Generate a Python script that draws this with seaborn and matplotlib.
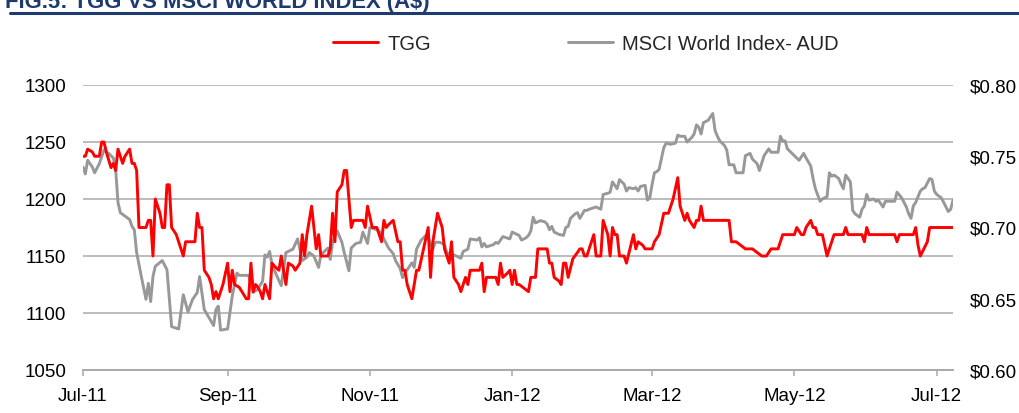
import matplotlib
matplotlib.use("Agg")
import matplotlib.pyplot as plt
import matplotlib.dates as mdates
import matplotlib.ticker as mticker
from matplotlib.lines import Line2D
import pandas as pd
import seaborn as sns

# ---------------- data ----------------
tgg_dates = [
    "2011-07-01", "2011-07-02", "2011-07-03", "2011-07-05", "2011-07-06", "2011-07-08", "2011-07-09",
    "2011-07-10", "2011-07-11", "2011-07-13", "2011-07-14", "2011-07-15", "2011-07-16", "2011-07-18",
    "2011-07-19", "2011-07-21", "2011-07-22", "2011-07-23", "2011-07-24", "2011-07-25", "2011-07-27",
    "2011-07-28", "2011-07-29", "2011-07-30", "2011-07-31", "2011-08-01", "2011-08-03", "2011-08-04",
    "2011-08-05", "2011-08-06", "2011-08-07", "2011-08-08", "2011-08-10", "2011-08-11", "2011-08-13",
    "2011-08-14", "2011-08-16", "2011-08-18", "2011-08-19", "2011-08-20", "2011-08-21", "2011-08-22",
    "2011-08-24", "2011-08-25", "2011-08-26", "2011-08-27", "2011-08-28", "2011-08-30", "2011-09-01",
    "2011-09-02", "2011-09-03", "2011-09-04", "2011-09-06", "2011-09-09", "2011-09-10", "2011-09-11",
    "2011-09-12", "2011-09-13", "2011-09-14", "2011-09-15", "2011-09-16", "2011-09-17", "2011-09-19",
    "2011-09-20", "2011-09-21", "2011-09-23", "2011-09-24", "2011-09-25", "2011-09-26", "2011-09-27",
    "2011-09-29", "2011-09-30", "2011-10-02", "2011-10-03", "2011-10-04", "2011-10-05", "2011-10-07",
    "2011-10-09", "2011-10-10", "2011-10-11", "2011-10-14", "2011-10-15", "2011-10-16", "2011-10-17",
    "2011-10-18", "2011-10-20", "2011-10-21", "2011-10-22", "2011-10-24", "2011-10-25", "2011-10-29",
    "2011-10-30", "2011-10-31", "2011-11-02", "2011-11-04", "2011-11-06", "2011-11-07", "2011-11-08",
    "2011-11-09", "2011-11-11", "2011-11-13", "2011-11-14", "2011-11-15", "2011-11-16", "2011-11-17",
    "2011-11-19", "2011-11-21", "2011-11-22", "2011-11-24", "2011-11-26", "2011-11-27", "2011-11-28",
    "2011-11-30", "2011-12-02", "2011-12-03", "2011-12-05", "2011-12-06", "2011-12-07", "2011-12-09",
    "2011-12-10", "2011-12-12", "2011-12-13", "2011-12-14", "2011-12-18", "2011-12-19", "2011-12-20",
    "2011-12-21", "2011-12-25", "2011-12-26", "2011-12-27", "2011-12-28", "2011-12-30", "2011-12-31",
    "2012-01-01", "2012-01-02", "2012-01-03", "2012-01-04", "2012-01-06", "2012-01-08", "2012-01-09",
    "2012-01-11", "2012-01-12", "2012-01-16", "2012-01-17", "2012-01-18", "2012-01-19", "2012-01-21",
    "2012-01-22", "2012-01-23", "2012-01-24", "2012-01-25", "2012-01-27", "2012-01-29", "2012-01-30",
    "2012-01-31", "2012-02-01", "2012-02-02", "2012-02-04", "2012-02-05", "2012-02-06", "2012-02-08",
    "2012-02-09", "2012-02-11", "2012-02-12", "2012-02-13", "2012-02-14", "2012-02-15", "2012-02-16",
    "2012-02-18", "2012-02-19", "2012-02-22", "2012-02-23", "2012-02-24", "2012-02-26", "2012-02-27",
    "2012-03-01", "2012-03-02", "2012-03-03", "2012-03-04", "2012-03-06", "2012-03-08", "2012-03-10",
    "2012-03-12", "2012-03-13", "2012-03-14", "2012-03-15", "2012-03-16", "2012-03-17", "2012-03-19",
    "2012-03-20", "2012-03-21", "2012-03-22", "2012-03-23", "2012-04-03", "2012-04-04", "2012-04-06",
    "2012-04-08", "2012-04-10", "2012-04-13", "2012-04-17", "2012-04-19", "2012-04-21", "2012-04-24",
    "2012-04-26", "2012-05-01", "2012-05-02", "2012-05-04", "2012-05-05", "2012-05-06", "2012-05-08",
    "2012-05-09", "2012-05-10", "2012-05-11", "2012-05-13", "2012-05-15", "2012-05-18", "2012-05-22",
    "2012-05-23", "2012-05-24", "2012-05-30", "2012-05-31", "2012-06-01", "2012-06-02", "2012-06-13",
    "2012-06-14", "2012-06-15", "2012-06-21", "2012-06-22", "2012-06-23", "2012-06-24", "2012-06-27",
    "2012-06-28", "2012-07-08",
]
tgg_price = [
    0.750, 0.750, 0.755, 0.753, 0.750, 0.750, 0.760,
    0.760, 0.753, 0.742, 0.745, 0.740, 0.755, 0.745,
    0.750, 0.755, 0.745, 0.745, 0.740, 0.700, 0.700,
    0.700, 0.705, 0.705, 0.680, 0.720, 0.710, 0.700,
    0.700, 0.730, 0.730, 0.700, 0.695, 0.690, 0.680,
    0.690, 0.690, 0.690, 0.710, 0.700, 0.700, 0.670,
    0.665, 0.660, 0.650, 0.655, 0.650, 0.660, 0.675,
    0.655, 0.670, 0.660, 0.658, 0.650, 0.650, 0.675,
    0.655, 0.660, 0.658, 0.655, 0.650, 0.660, 0.650,
    0.675, 0.673, 0.670, 0.680, 0.670, 0.660, 0.675,
    0.673, 0.670, 0.675, 0.695, 0.680, 0.695, 0.715,
    0.685, 0.695, 0.680, 0.680, 0.685, 0.710, 0.690,
    0.725, 0.730, 0.740, 0.740, 0.700, 0.705, 0.705,
    0.700, 0.715, 0.700, 0.700, 0.690, 0.705, 0.700,
    0.702, 0.705, 0.690, 0.690, 0.670, 0.670, 0.660,
    0.650, 0.670, 0.670, 0.685, 0.700, 0.665, 0.690,
    0.710, 0.700, 0.685, 0.675, 0.690, 0.665, 0.660,
    0.655, 0.665, 0.660, 0.670, 0.670, 0.675, 0.655,
    0.665, 0.665, 0.660, 0.675, 0.665, 0.668, 0.670,
    0.660, 0.670, 0.660, 0.660, 0.6575, 0.655, 0.665,
    0.665, 0.685, 0.685, 0.675, 0.675, 0.665, 0.6625,
    0.660, 0.675, 0.675, 0.665, 0.678, 0.6825, 0.685,
    0.685, 0.680, 0.680, 0.690, 0.695, 0.680, 0.680,
    0.705, 0.695, 0.680, 0.700, 0.695, 0.695, 0.680,
    0.680, 0.675, 0.695, 0.685, 0.690, 0.6875, 0.685,
    0.685, 0.690, 0.6925, 0.695, 0.710, 0.710, 0.720,
    0.735, 0.715, 0.710, 0.705, 0.710, 0.705, 0.700,
    0.705, 0.705, 0.715, 0.705, 0.705, 0.690, 0.690,
    0.6875, 0.685, 0.685, 0.680, 0.680, 0.685, 0.685,
    0.695, 0.695, 0.700, 0.695, 0.695, 0.700, 0.705,
    0.700, 0.700, 0.695, 0.695, 0.680, 0.695, 0.695,
    0.700, 0.695, 0.695, 0.690, 0.700, 0.695, 0.695,
    0.690, 0.695, 0.695, 0.700, 0.6875, 0.680, 0.690,
    0.700, 0.700,
]

msci_dates = [
    "2011-07-01", "2011-07-02", "2011-07-03", "2011-07-05", "2011-07-06", "2011-07-08", "2011-07-10",
    "2011-07-12", "2011-07-14", "2011-07-15", "2011-07-16", "2011-07-17", "2011-07-19", "2011-07-21",
    "2011-07-22", "2011-07-23", "2011-07-24", "2011-07-26", "2011-07-28", "2011-07-29", "2011-07-30",
    "2011-07-31", "2011-08-01", "2011-08-04", "2011-08-06", "2011-08-08", "2011-08-11", "2011-08-13",
    "2011-08-15", "2011-08-17", "2011-08-19", "2011-08-20", "2011-08-22", "2011-08-24", "2011-08-26",
    "2011-08-27", "2011-08-28", "2011-08-29", "2011-09-01", "2011-09-03", "2011-09-05", "2011-09-06",
    "2011-09-09", "2011-09-10", "2011-09-12", "2011-09-14", "2011-09-16", "2011-09-17", "2011-09-18",
    "2011-09-19", "2011-09-20", "2011-09-22", "2011-09-24", "2011-09-26", "2011-09-27", "2011-09-29",
    "2011-10-01", "2011-10-02", "2011-10-03", "2011-10-05", "2011-10-06", "2011-10-08", "2011-10-10",
    "2011-10-11", "2011-10-14", "2011-10-15", "2011-10-16", "2011-10-18", "2011-10-20", "2011-10-21",
    "2011-10-23", "2011-10-24", "2011-10-26", "2011-10-28", "2011-10-29", "2011-10-31", "2011-11-01",
    "2011-11-04", "2011-11-06", "2011-11-07", "2011-11-09", "2011-11-11", "2011-11-12", "2011-11-14",
    "2011-11-15", "2011-11-16", "2011-11-19", "2011-11-20", "2011-11-21", "2011-11-23", "2011-11-25",
    "2011-11-26", "2011-11-28", "2011-11-29", "2011-12-01", "2011-12-03", "2011-12-04", "2011-12-06",
    "2011-12-07", "2011-12-10", "2011-12-11", "2011-12-13", "2011-12-14", "2011-12-17", "2011-12-18",
    "2011-12-19", "2011-12-20", "2011-12-21", "2011-12-24", "2011-12-25", "2011-12-26", "2011-12-28",
    "2011-12-31", "2012-01-01", "2012-01-03", "2012-01-04", "2012-01-05", "2012-01-07", "2012-01-08",
    "2012-01-09", "2012-01-10", "2012-01-11", "2012-01-13", "2012-01-15", "2012-01-16", "2012-01-17",
    "2012-01-18", "2012-01-19", "2012-01-21", "2012-01-23", "2012-01-24", "2012-01-25", "2012-01-26",
    "2012-01-28", "2012-01-29", "2012-01-30", "2012-02-01", "2012-02-02", "2012-02-03", "2012-02-06",
    "2012-02-07", "2012-02-08", "2012-02-09", "2012-02-11", "2012-02-12", "2012-02-13", "2012-02-15",
    "2012-02-16", "2012-02-18", "2012-02-19", "2012-02-20", "2012-02-22", "2012-02-23", "2012-02-24",
    "2012-02-25", "2012-02-27", "2012-02-28", "2012-02-29", "2012-03-01", "2012-03-02", "2012-03-03",
    "2012-03-04", "2012-03-06", "2012-03-07", "2012-03-09", "2012-03-11", "2012-03-12", "2012-03-13",
    "2012-03-15", "2012-03-16", "2012-03-18", "2012-03-19", "2012-03-20", "2012-03-21", "2012-03-22",
    "2012-03-23", "2012-03-25", "2012-03-26", "2012-03-27", "2012-03-28", "2012-03-29", "2012-03-30",
    "2012-04-01", "2012-04-02", "2012-04-03", "2012-04-05", "2012-04-06", "2012-04-09", "2012-04-10",
    "2012-04-12", "2012-04-13", "2012-04-15", "2012-04-16", "2012-04-18", "2012-04-20", "2012-04-21",
    "2012-04-24", "2012-04-25", "2012-04-26", "2012-04-27", "2012-04-28", "2012-04-30", "2012-05-02",
    "2012-05-03", "2012-05-05", "2012-05-06", "2012-05-08", "2012-05-09", "2012-05-10", "2012-05-12",
    "2012-05-13", "2012-05-15", "2012-05-16", "2012-05-17", "2012-05-18", "2012-05-20", "2012-05-21",
    "2012-05-22", "2012-05-23", "2012-05-25", "2012-05-26", "2012-05-27", "2012-05-29", "2012-05-30",
    "2012-05-31", "2012-06-01", "2012-06-02", "2012-06-04", "2012-06-05", "2012-06-06", "2012-06-07",
    "2012-06-08", "2012-06-09", "2012-06-13", "2012-06-14", "2012-06-16", "2012-06-18", "2012-06-19",
    "2012-06-20", "2012-06-21", "2012-06-22", "2012-06-24", "2012-06-25", "2012-06-26", "2012-06-28",
    "2012-06-29", "2012-06-30", "2012-07-01", "2012-07-03", "2012-07-04", "2012-07-06", "2012-07-07",
    "2012-07-08",
]
msci_index = [
    1228, 1222, 1234, 1228, 1223, 1231, 1243,
    1240, 1236, 1226, 1197, 1188, 1185, 1182,
    1176, 1173, 1153, 1132, 1112, 1126, 1110,
    1132, 1141, 1146, 1138, 1088, 1086, 1116,
    1101, 1112, 1118, 1132, 1103, 1096, 1089,
    1103, 1106, 1085, 1086, 1115, 1135, 1133,
    1133, 1133, 1118, 1121, 1128, 1151, 1149,
    1154, 1143, 1133, 1124, 1153, 1154, 1156,
    1165, 1156, 1146, 1149, 1153, 1150, 1140,
    1151, 1157, 1147, 1162, 1172, 1162, 1153,
    1137, 1157, 1161, 1162, 1171, 1161, 1175,
    1173, 1170, 1165, 1157, 1152, 1146, 1139,
    1131, 1135, 1144, 1140, 1156, 1164, 1168,
    1166, 1156, 1162, 1162, 1160, 1153, 1150,
    1151, 1148, 1154, 1156, 1165, 1164, 1166,
    1158, 1161, 1158, 1160, 1162, 1161, 1167,
    1165, 1171, 1169, 1168, 1164, 1166, 1168,
    1172, 1184, 1179, 1181, 1180, 1178, 1173,
    1176, 1171, 1169, 1168, 1175, 1176, 1183,
    1187, 1188, 1183, 1190, 1190, 1191, 1193,
    1192, 1191, 1204, 1205, 1206, 1215, 1209,
    1217, 1213, 1207, 1210, 1209, 1210, 1207,
    1211, 1212, 1199, 1201, 1213, 1223, 1224,
    1226, 1245, 1249, 1248, 1249, 1256, 1255,
    1255, 1250, 1254, 1257, 1265, 1263, 1257,
    1267, 1269, 1272, 1275, 1260, 1255, 1251,
    1247, 1243, 1230, 1230, 1223, 1223, 1238,
    1240, 1235, 1231, 1225, 1238, 1244, 1241,
    1241, 1255, 1251, 1251, 1244, 1240, 1236,
    1234, 1240, 1236, 1229, 1218, 1209, 1198,
    1200, 1202, 1223, 1220, 1221, 1218, 1213,
    1209, 1221, 1215, 1190, 1187, 1184, 1191,
    1194, 1204, 1199, 1200, 1198, 1199, 1196,
    1193, 1198, 1198, 1206, 1201, 1193, 1187,
    1183, 1194, 1197, 1207, 1209, 1210, 1218,
    1217, 1207, 1204, 1201, 1197, 1189, 1191,
    1199,
]

# ---------------- style ----------------
sns.set_theme(style="white")
plt.rcParams["font.family"] = ["Liberation Sans", "DejaVu Sans"]

RED = "#FF0000"
GREY = "#989898"
GRID = "#A9A9A9"
FS = 13.5
LFS = 14.5
LW = 2.1

fig = plt.figure(figsize=(10.2, 4.14), dpi=100)
W, H = 1020, 414
ax = fig.add_axes([83 / W, 1 - 371 / H, (953 - 83) / W, (371 - 86) / H])
ax2 = ax.twinx()

sns.lineplot(x=pd.to_datetime(msci_dates), y=msci_index, ax=ax, color=GREY,
             linewidth=LW, legend=False)
sns.lineplot(x=pd.to_datetime(tgg_dates), y=tgg_price, ax=ax2, color=RED,
             linewidth=LW, legend=False)

# left axis
ax.set_ylim(1050, 1300)
ax.set_yticks([1050, 1100, 1150, 1200, 1250, 1300])
ax.yaxis.grid(True, color=GRID, linewidth=1.1)
ax.xaxis.grid(False)
ax.set_xlim(pd.Timestamp("2011-07-01"), pd.Timestamp("2012-07-08"))
ax.xaxis.set_major_locator(mdates.MonthLocator(bymonth=[1, 3, 5, 7, 9, 11]))
ax.xaxis.set_major_formatter(mdates.DateFormatter("%b-%y"))
ax.tick_params(axis="y", left=False, length=0, pad=12, labelsize=FS, labelcolor="black")
ax.tick_params(axis="x", bottom=True, length=4, width=1.1, color=GRID, direction="out",
               pad=8, labelsize=FS, labelcolor="black")
ax.set_xlabel("")
ax.set_ylabel("")

# right axis
ax2.set_ylim(0.60, 0.80)
ax2.set_yticks([0.60, 0.65, 0.70, 0.75, 0.80])
ax2.yaxis.set_major_formatter(mticker.FuncFormatter(lambda v, p: f"${v:.2f}"))
ax2.tick_params(axis="y", right=False, length=0, pad=12, labelsize=FS, labelcolor="black",
                labelright=True)
ax2.grid(False)
ax2.set_ylabel("")

for a in (ax, ax2):
    for s in ("top", "left", "right"):
        a.spines[s].set_visible(False)
    a.spines["bottom"].set_color(GRID)
    a.spines["bottom"].set_linewidth(1.1)

# legend
handles = [Line2D([], [], color=RED, linewidth=LW), Line2D([], [], color=GREY, linewidth=LW)]
fig.legend(handles, ["TGG", "MSCI World Index- AUD"], loc="center",
           bbox_to_anchor=(586 / W, 1 - 45 / H), ncol=2, frameon=False, fontsize=LFS,
           handlelength=2.25, handletextpad=0.45, columnspacing=6.8)

# figure heading (cropped at the top edge, as in the source) and rule
fig.text(5 / W, 1 - 8 / H, "FIG.5: TGG VS MSCI WORLD INDEX (A$)", ha="left", va="baseline",
         fontsize=15.8, fontweight="bold", color="#1F3A6E")
fig.add_artist(Line2D([10 / W, 1.0], [1 - 14 / H, 1 - 14 / H], color="#1F3A6E",
                      linewidth=2.2, transform=fig.transFigure))

fig.savefig("out.png", dpi=100)
